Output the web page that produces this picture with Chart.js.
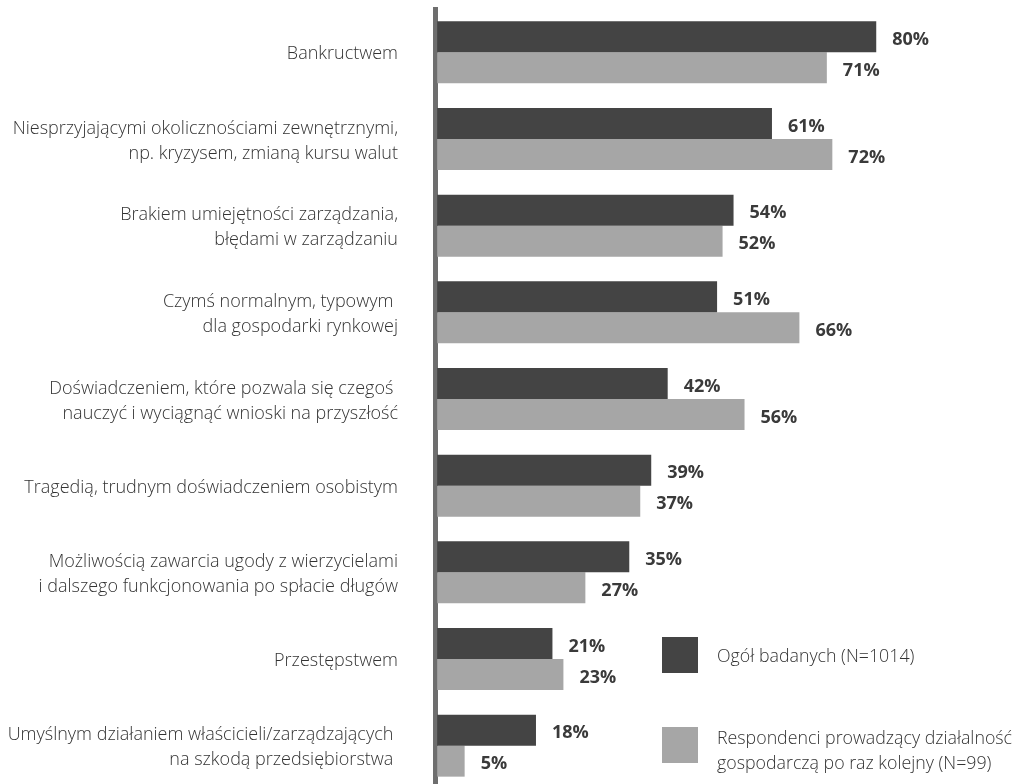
<!DOCTYPE html>
<html lang="pl">
<head>
<meta charset="utf-8">
<title>Postrzeganie upadłości firmy</title>
<script src="https://cdn.jsdelivr.net/npm/chart.js@4.4.1/dist/chart.umd.min.js"></script>
<style>
  html, body { margin: 0; padding: 0; background: #ffffff; overflow: hidden; }
  #wrap { position: relative; width: 1015px; height: 790px; }
</style>
</head>
<body>
<div id="wrap"><canvas id="chart"></canvas></div>
<script>
// Categories (multi-line labels as arrays)
const categories = [
  ['Bankructwem'],
  ['Niesprzyjającymi okolicznościami zewnętrznymi,', 'np. kryzysem, zmianą kursu walut'],
  ['Brakiem umiejętności zarządzania,', 'błędami w zarządzaniu'],
  ['Czymś normalnym, typowym ', 'dla gospodarki rynkowej'],
  ['Doświadczeniem, które pozwala się czegoś ', 'nauczyć i wyciągnąć wnioski na przyszłość'],
  ['Tragedią, trudnym doświadczeniem osobistym'],
  ['Możliwością zawarcia ugody z wierzycielami', 'i dalszego funkcjonowania po spłacie długów'],
  ['Przestępstwem'],
  ['Umyślnym działaniem właścicieli/zarządzających ', 'na szkodą przedsiębiorstwa ']
];

// Series values (%)
const ogolBadanych = [80, 61, 54, 51, 42, 39, 35, 21, 18];
const respondenciKolejny = [71, 72, 52, 66, 56, 37, 27, 23, 5];

// Legend texts
const seriesNames = [
  ['Ogół badanych (N=1014)'],
  ['Respondenci prowadzący działalność', 'gospodarczą po raz kolejny (N=99)']
];

const DARK = '#444444';
const LIGHT = '#a6a6a6';
const TEXT = '#333333';

// Percentage labels to the right of each bar
const valueLabels = {
  id: 'valueLabels',
  afterDatasetsDraw(chart) {
    const ctx = chart.ctx;
    ctx.save();
    ctx.font = '700 18px "Open Sans"';
    ctx.fillStyle = '#3a3a3a';
    ctx.textAlign = 'left';
    ctx.textBaseline = 'middle';
    chart.data.datasets.forEach((ds, di) => {
      const meta = chart.getDatasetMeta(di);
      meta.data.forEach((bar, i) => {
        ctx.fillText(ds.data[i] + '%', bar.x + 16, bar.y + 3);
      });
    });
    ctx.restore();
  }
};

// Square-swatch legend in the lower right of the plot
const boxLegend = {
  id: 'boxLegend',
  afterDraw(chart) {
    const ctx = chart.ctx;
    const items = [
      { color: chart.data.datasets[0].backgroundColor, lines: seriesNames[0], top: 637 },
      { color: chart.data.datasets[1].backgroundColor, lines: seriesNames[1], top: 727 }
    ];
    ctx.save();
    ctx.font = '300 17.8px "Open Sans"';
    ctx.textAlign = 'left';
    ctx.textBaseline = 'middle';
    items.forEach(it => {
      ctx.fillStyle = it.color;
      ctx.fillRect(662, it.top, 36, 36);
      ctx.fillStyle = TEXT;
      const lh = 25;
      const mid = it.top + 20 + (it.lines.length - 1) * 4;
      const start = mid - (it.lines.length - 1) * lh / 2;
      it.lines.forEach((t, k) => ctx.fillText(t, 717, start + k * lh));
    });
    ctx.restore();
  }
};

new Chart(document.getElementById('chart'), {
  type: 'bar',
  data: {
    labels: categories,
    datasets: [
      { label: seriesNames[0].join(' '), data: ogolBadanych, backgroundColor: DARK,
        barPercentage: 1, categoryPercentage: 0.715 },
      { label: seriesNames[1].join(' '), data: respondenciKolejny, backgroundColor: LIGHT,
        barPercentage: 1, categoryPercentage: 0.715 }
    ]
  },
  options: {
    indexAxis: 'y',
    responsive: true,
    maintainAspectRatio: false,
    animation: false,
    layout: { padding: { top: 9, right: 29, bottom: 1, left: 0 } },
    plugins: {
      legend: { display: false },
      tooltip: { enabled: false }
    },
    scales: {
      x: {
        display: false,
        min: -0.4,
        max: 100
      },
      y: {
        grid: { display: false, drawTicks: false },
        border: { display: true, color: '#6e6e6e', width: 5 },
        ticks: {
          color: TEXT,
          padding: 37,
          labelOffset: 2,
          font: { family: 'Open Sans', weight: 300, size: 18, lineHeight: 1.4 }
        },
        afterFit(scale) {
          scale.width = 435;
          scale.paddingTop = 0;
          scale.paddingBottom = 0;
        }
      }
    }
  },
  plugins: [valueLabels, boxLegend]
});
</script>
</body>
</html>
